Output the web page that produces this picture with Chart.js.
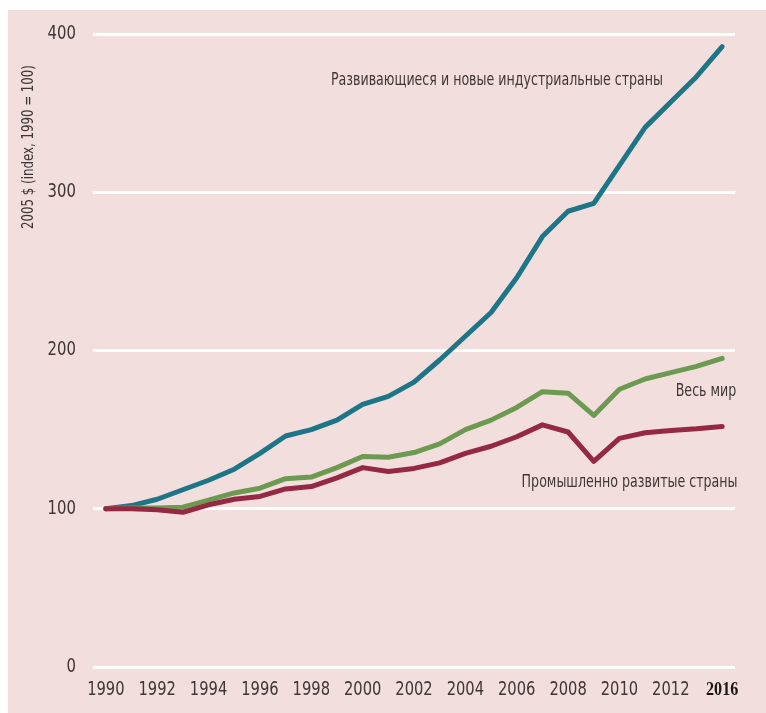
<!DOCTYPE html>
<html>
<head>
<meta charset="utf-8">
<script src="https://cdn.jsdelivr.net/npm/chart.js@4/dist/chart.umd.min.js"></script>
<style>
  html, body { margin: 0; padding: 0; background: #ffffff; }
  #frame { position: absolute; left: 8px; top: 10px; width: 758px; height: 703px; background: #f2dfdd; }
  canvas { display: block; }
</style>
</head>
<body>
<div id="frame"><canvas id="c" width="758" height="703"></canvas></div>
<script>
// Years on the category axis
const years = ['1990','1991','1992','1993','1994','1995','1996','1997','1998','1999',
               '2000','2001','2002','2003','2004','2005','2006','2007','2008','2009',
               '2010','2011','2012','2013','2014'];
// Labels printed under the axis (one per category, blank = no label)
const tickLabels = ['1990','','1992','','1994','','1996','','1998','','2000','','2002','',
                    '2004','','2006','','2008','','2010','','2012','','2016'];
const yTicks = [0, 100, 200, 300, 400];

// Index, 1990 = 100 (constant 2005 $)
const emerging = [100, 102, 106, 112, 118, 125, 135, 146, 150, 156, 166, 171, 180, 194, 209,
                  224, 246, 272, 288, 293, 317, 341, 357, 373, 392];
const world    = [100, 100.5, 100.5, 101, 105.5, 110, 113, 119, 120, 126, 133, 132.5, 135.5, 141, 150,
                  156, 164, 174, 173, 159, 175.5, 182, 186, 190, 195];
const advanced = [100, 100, 99.3, 97.8, 102.5, 106, 107.8, 112.5, 114, 119.5, 126, 123.5, 125.5, 129, 135,
                  139.5, 145.5, 153, 148.5, 130, 144.5, 148, 149.5, 150.5, 152];

const seriesNames = ['Развивающиеся и новые индустриальные страны', 'Весь мир', 'Промышленно развитые страны'];
const yTitle = '2005 $ (index, 1990 = 100)';

const FONT = '"DejaVu Sans Condensed", "Liberation Sans Narrow", "Open Sans", sans-serif';
const TEXT = '#3f3637';

// Series names written next to their lines: anchor in data units (category index, value)
const seriesLabels = [
  { text: seriesNames[0], x: 21.7, y: 371 },
  { text: seriesNames[1], x: 24.55, y: 174 },
  { text: seriesNames[2], x: 24.6, y: 117 }
];

// Text squeezed horizontally to get a narrow face from the installed fonts
function narrowText(ctx, text, x, y, align, font, sx, color) {
  ctx.save();
  ctx.font = font;
  ctx.fillStyle = color || TEXT;
  ctx.textBaseline = 'middle';
  const w = ctx.measureText(text).width * sx;
  let left = x;
  if (align === 'right') left = x - w;
  else if (align === 'center') left = x - w / 2;
  ctx.translate(left, y);
  ctx.scale(sx, 1);
  ctx.textAlign = 'left';
  ctx.fillText(text, 0, 0);
  ctx.restore();
}

const textPlugin = {
  id: 'narrowText',
  afterDraw(chart) {
    const { ctx, scales: { x, y }, chartArea } = chart;
    // value-axis ticks
    for (const v of yTicks) {
      narrowText(ctx, String(v), chartArea.left - 17, y.getPixelForValue(v), 'right', '19px ' + FONT, 0.87);
    }
    // category-axis ticks
    const last = tickLabels.length - 1;
    tickLabels.forEach((t, i) => {
      if (!t) return;
      const px = x.getPixelForValue(i);
      if (i === last) {
        narrowText(ctx, t, px, chartArea.bottom + 23, 'center', 'bold 19px "Liberation Serif", serif', 0.85, '#1a1414');
      } else {
        narrowText(ctx, t, px, chartArea.bottom + 23, 'center', '19px ' + FONT, 0.86);
      }
    });
    // series names
    for (const l of seriesLabels) {
      narrowText(ctx, l.text, x.getPixelForValue(l.x), y.getPixelForValue(l.y), 'right', '18px ' + FONT, 0.78);
    }
    // rotated axis title near the top of the value axis
    ctx.save();
    ctx.translate(chartArea.left - 64, chartArea.top + 113);
    ctx.rotate(-Math.PI / 2);
    narrowText(ctx, yTitle, 0, 0, 'center', '16px ' + FONT, 0.82);
    ctx.restore();
  }
};

const line = (data, color) => ({
  data, borderColor: color, backgroundColor: color, borderWidth: 5,
  pointRadius: 0, tension: 0, borderJoinStyle: 'round', borderCapStyle: 'round', clip: false
});

new Chart(document.getElementById('c'), {
  type: 'line',
  data: {
    labels: years,
    datasets: [
      line(advanced, '#952943'),
      line(world, '#6c9a50'),
      line(emerging, '#1d7687')
    ]
  },
  options: {
    responsive: false,
    animation: false,
    devicePixelRatio: 1,
    layout: { padding: { top: 24, right: 31, bottom: 0, left: 0 } },
    plugins: { legend: { display: false }, tooltip: { enabled: false } },
    scales: {
      x: {
        offset: true,
        grid: { display: false, drawTicks: false },
        border: { display: false },
        ticks: { display: false },
        afterFit(s) { s.height = 46; }
      },
      y: {
        min: 0, max: 400,
        afterFit(s) { s.width = 85; },
        afterBuildTicks(s) { s.ticks = yTicks.map(v => ({ value: v })); },
        grid: { color: '#ffffff', lineWidth: 3, drawTicks: false },
        border: { display: false },
        ticks: { display: false }
      }
    }
  },
  plugins: [textPlugin]
});
</script>
</body>
</html>
